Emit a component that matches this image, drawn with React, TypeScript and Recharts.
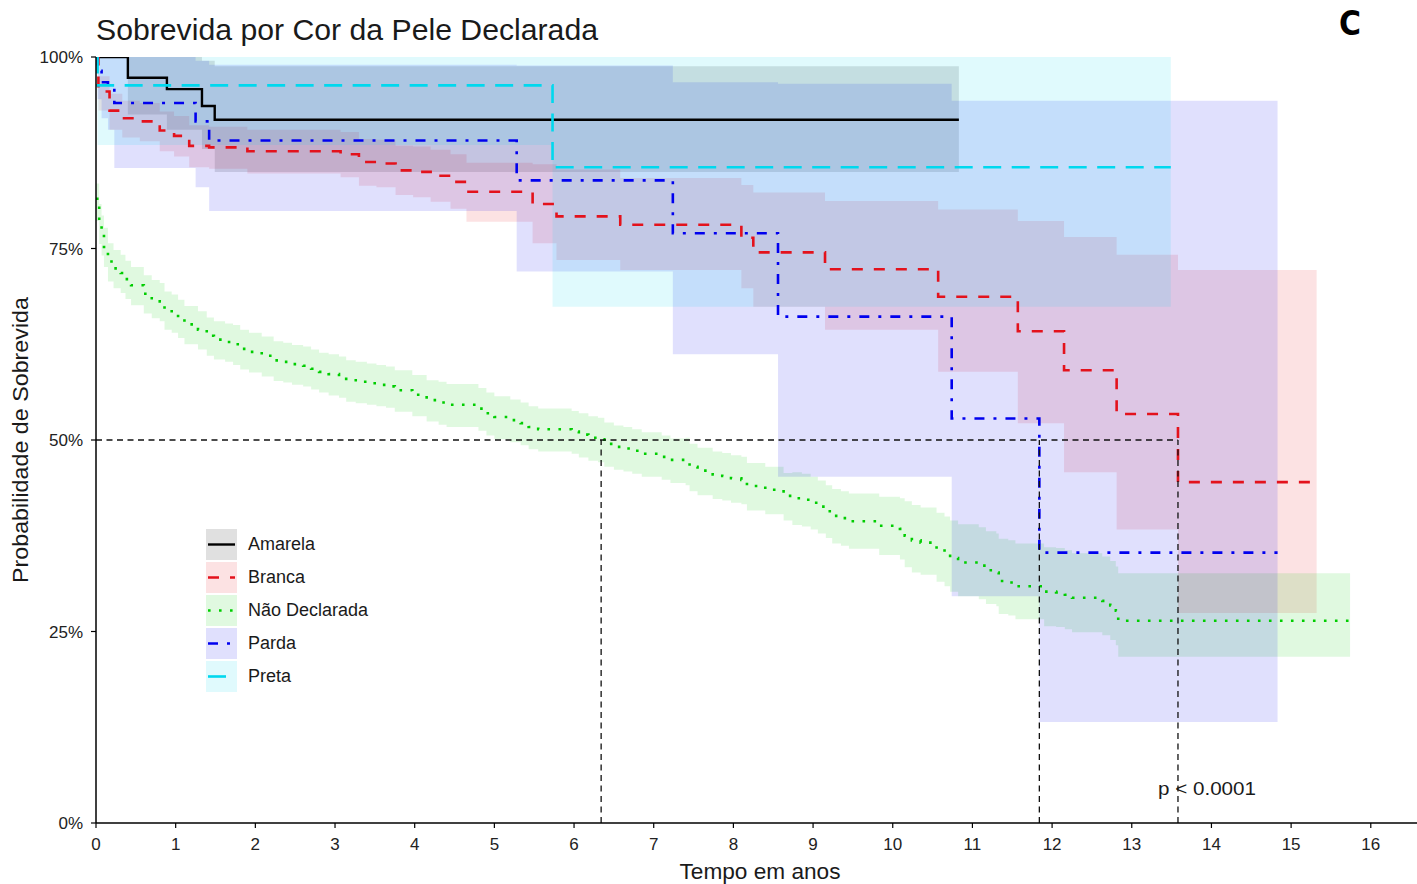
import React from 'react';
import { ComposedChart, Line, Area, XAxis, YAxis, ReferenceLine, Legend } from 'recharts';

// ---------- data ----------
const X_TICKS = [0, 1, 2, 3, 4, 5, 6, 7, 8, 9, 10, 11, 12, 13, 14, 15, 16];
const Y_TICKS = [0, 25, 50, 75, 100];
const Y_TICK_LABELS = ['0%', '25%', '50%', '75%', '100%'];

// Amarela
const amarelaT = [0, 0.4, 0.89, 1.33, 1.49, 10.83];
const amarelaS = [100, 97.3, 95.8, 93.6, 91.8, 91.8];
const amarelaLo = [100, 92.5, 90.5, 88.0, 85.0, 85.0];
const amarelaHi = [100, 100, 100, 99.5, 98.8, 98.8];

// Branca
const brancaT = [0, 0.03, 0.17, 0.33, 0.55, 0.8, 0.98, 1.17, 1.42, 1.9, 3.07, 3.3, 3.52, 3.76, 3.98, 4.2, 4.45, 4.65, 5.48, 5.78, 6.58, 8.1, 8.25, 9.15, 10.57, 11.57, 12.15, 12.81, 13.58, 15.32];
const brancaS = [100, 95.5, 93.0, 92.0, 91.6, 90.4, 89.7, 88.4, 88.2, 87.7, 87.3, 86.3, 86.1, 85.2, 85.0, 84.5, 83.7, 82.4, 80.8, 79.2, 78.1, 76.4, 74.5, 72.3, 68.7, 64.2, 59.1, 53.4, 44.5, 44.5];
const brancaLo = [100, 93.0, 90.5, 89.5, 89.0, 87.7, 87.0, 85.6, 85.4, 84.8, 84.3, 83.2, 83.0, 82.0, 81.7, 81.1, 80.2, 78.5, 75.7, 73.5, 72.2, 69.8, 67.4, 64.4, 58.9, 52.2, 45.8, 38.3, 27.4, 27.4];
const brancaHi = [100, 97.5, 95.2, 94.3, 94.0, 92.9, 92.3, 91.1, 90.9, 90.5, 90.2, 89.3, 89.2, 88.4, 88.3, 87.9, 87.3, 86.2, 86.0, 85.3, 84.2, 83.3, 82.3, 81.2, 80.1, 78.6, 76.5, 74.2, 72.2, 72.2];

// Não Declarada
const naoT = [0, 0.04, 0.07, 0.1, 0.15, 0.22, 0.31, 0.37, 0.44, 0.6, 0.7, 0.8, 0.86, 0.95, 1.03, 1.11, 1.28, 1.39, 1.48, 1.62, 1.72, 1.81, 1.92, 2.08, 2.23, 2.35, 2.46, 2.6, 2.7, 2.8, 2.92, 3.05, 3.14, 3.26, 3.4, 3.52, 3.64, 3.75, 3.97, 4.15, 4.3, 4.4, 4.8, 4.9, 5.0, 5.2, 5.33, 5.43, 5.55, 5.97, 6.06, 6.18, 6.3, 6.38, 6.5, 6.62, 6.73, 6.85, 7.1, 7.21, 7.4, 7.45, 7.55, 7.74, 7.86, 7.97, 8.1, 8.17, 8.4, 8.63, 8.74, 8.86, 8.97, 9.06, 9.16, 9.24, 9.35, 9.45, 9.83, 10.09, 10.15, 10.24, 10.35, 10.55, 10.65, 10.72, 10.82, 11.08, 11.17, 11.3, 11.33, 11.45, 11.54, 11.9, 12.05, 12.16, 12.25, 12.63, 12.73, 12.8, 12.83, 15.74];
const naoS = [81.5, 78.3, 76.8, 75.2, 73.3, 72.4, 71.8, 71.0, 70.2, 69.1, 68.5, 68.1, 67.0, 66.6, 65.9, 65.1, 64.4, 63.6, 63.1, 62.8, 62.5, 61.9, 61.5, 61.0, 60.4, 60.2, 59.9, 59.7, 59.3, 58.9, 58.6, 58.3, 57.8, 57.6, 57.4, 57.2, 57.0, 56.5, 55.9, 55.2, 54.9, 54.6, 54.1, 53.5, 53.0, 52.6, 52.2, 51.7, 51.4, 51.1, 50.7, 50.3, 50.1, 49.5, 49.1, 48.9, 48.6, 48.2, 47.8, 47.4, 47.3, 46.5, 46.0, 45.5, 45.3, 45.0, 44.8, 44.0, 43.5, 42.7, 42.4, 42.2, 41.8, 41.3, 40.7, 40.1, 39.8, 39.4, 38.8, 38.4, 37.5, 36.9, 36.6, 35.8, 35.2, 34.6, 34.0, 33.6, 33.0, 32.7, 31.6, 31.4, 30.9, 30.2, 30.1, 29.8, 29.4, 29.0, 28.4, 27.7, 26.4, 26.4];
const naoLo = [
  78.6, 75.6, 74.1, 72.6, 70.7, 69.8, 69.2, 68.4, 67.6, 66.5,
  65.9, 65.5, 64.4, 64.0, 63.3, 62.5, 61.8, 61.0, 60.5, 60.2,
  59.8, 59.2, 58.8, 58.3, 57.7, 57.5, 57.2, 57.0, 56.6, 56.2,
  55.8, 55.5, 55.0, 54.8, 54.6, 54.4, 54.2, 53.7, 53.1, 52.4,
  52.0, 51.7, 51.2, 50.6, 50.1, 49.7, 49.3, 48.8, 48.5, 48.2,
  47.7, 47.3, 47.1, 46.5, 46.1, 45.9, 45.6, 45.2, 44.8, 44.4,
  44.1, 43.3, 42.8, 42.3, 42.1, 41.8, 41.6, 40.8, 40.3, 39.5,
  38.9, 38.7, 38.3, 37.8, 37.2, 36.5, 36.2, 35.8, 35.0, 34.4,
  33.4, 32.7, 32.4, 31.5, 30.9, 30.2, 29.6, 29.2, 28.6, 28.3,
  27.3, 27.1, 26.6, 25.7, 25.6, 25.3, 24.9, 24.5, 23.9, 23.2,
  21.7, 21.7,
];
const naoHi = [
  83.5, 80.8, 79.3, 77.7, 75.7, 74.8, 74.2, 73.4, 72.6, 71.5,
  70.9, 70.5, 69.4, 69.0, 68.3, 67.5, 66.8, 66.0, 65.5, 65.2,
  65.0, 64.4, 64.0, 63.5, 62.9, 62.7, 62.4, 62.2, 61.8, 61.4,
  61.2, 60.9, 60.4, 60.2, 60.0, 59.8, 59.6, 59.1, 58.5, 57.8,
  57.6, 57.3, 56.8, 56.2, 55.7, 55.3, 54.9, 54.4, 54.1, 53.8,
  53.5, 53.1, 52.9, 52.3, 51.9, 51.7, 51.4, 51.0, 50.6, 50.2,
  50.3, 49.5, 49.0, 48.5, 48.3, 48.0, 47.8, 47.0, 46.5, 45.7,
  45.8, 45.6, 45.2, 44.7, 44.1, 43.6, 43.3, 43.0, 42.6, 42.4,
  42.0, 41.5, 41.2, 40.5, 40.0, 39.5, 39.0, 38.6, 38.1, 37.8,
  37.1, 36.9, 36.5, 36.0, 35.9, 35.6, 35.2, 34.8, 34.2, 33.5,
  32.6, 32.6,
];

// Parda
const pardaT = [0, 0.02, 0.07, 0.15, 0.23, 1.25, 1.42, 5.28, 7.24, 8.56, 10.74, 11.84, 14.83];
const pardaS = [100, 98.2, 96.7, 95.9, 94.0, 91.6, 89.1, 83.9, 77.0, 66.1, 52.8, 35.3, 35.3];
const pardaLo = [100, 94.5, 92.0, 90.5, 85.5, 83.0, 79.9, 72.0, 61.2, 45.2, 29.6, 13.2, 13.2];
const pardaHi = [100, 100, 100, 100, 100, 99.5, 99.0, 98.9, 96.7, 96.5, 94.3, 94.3, 94.3];

// Preta
const pretaT = [0, 0.02, 5.73, 13.49];
const pretaS = [100, 96.3, 85.6, 85.6];
const pretaLo = [100, 88.5, 67.4, 67.4];
const pretaHi = [100, 100, 100, 100];

// medians (dashed guides)
const MEDIAN_LEVEL = 50;
const MEDIANS = [6.34, 11.84, 13.58];

// ---------- helpers ----------
const toLine = (ts: number[], ss: number[]) => ts.map((t, i) => ({ t, s: ss[i] }));
const toBand = (ts: number[], lo: number[], hi: number[]) => ts.map((t, i) => ({ t, band: [lo[i], hi[i]] }));

const SERIES = [
  { name: 'Amarela', color: '#000000', dash: undefined as string | undefined, width: 2.4, line: toLine(amarelaT, amarelaS), band: toBand(amarelaT, amarelaLo, amarelaHi) },
  { name: 'Branca', color: '#e3121c', dash: '11 11', width: 2.6, line: toLine(brancaT, brancaS), band: toBand(brancaT, brancaLo, brancaHi) },
  { name: 'Não Declarada', color: '#00cd00', dash: '2.6 8.4', width: 2.6, line: toLine(naoT, naoS), band: toBand(naoT, naoLo, naoHi) },
  { name: 'Parda', color: '#0000ee', dash: '10 9 3 9', width: 2.6, line: toLine(pardaT, pardaS), band: toBand(pardaT, pardaLo, pardaHi) },
  { name: 'Preta', color: '#00d8ee', dash: '18 10.5', width: 2.6, line: toLine(pretaT, pretaS), band: toBand(pretaT, pretaLo, pretaHi) },
];

const W = 1417;
const H = 884;
const FONT = '"Liberation Sans", Arial, Helvetica, sans-serif';
const BAND_OPACITY = 0.12;

function LegendBox() {
  return (
    <div style={{ fontFamily: FONT, fontSize: 18, color: '#1a1a1a', lineHeight: '33px' }}>
      {SERIES.map((s) => (
        <div key={s.name} style={{ display: 'flex', alignItems: 'center', height: 33 }}>
          <svg width={31} height={33} style={{ display: 'block' }}>
            <rect x={0} y={1} width={31} height={31} fill={s.color} fillOpacity={BAND_OPACITY} />
            <line x1={2} x2={29} y1={16.5} y2={16.5} stroke={s.color} strokeWidth={s.width} strokeDasharray={s.dash} />
          </svg>
          <span style={{ marginLeft: 11, whiteSpace: 'nowrap' }}>{s.name}</span>
        </div>
      ))}
    </div>
  );
}

export default function App() {
  return (
    <div style={{ position: 'relative', width: W, height: H, background: '#ffffff', overflow: 'hidden' }}>
      <style>{`html,body{margin:0;padding:0;background:#fff;overflow:hidden}`}</style>
      <ComposedChart width={W} height={H} margin={{ top: 57, right: 0, bottom: 0, left: 0 }}>
        <XAxis
          dataKey="t"
          type="number"
          domain={[0, 16.58]}
          ticks={X_TICKS}
          interval={0}
          allowDataOverflow
          height={61}
          tickSize={5}
          tickMargin={10}
          axisLine={{ stroke: '#000', strokeWidth: 1.5 }}
          tickLine={{ stroke: '#000', strokeWidth: 1.2 }}
          tick={{ fill: '#222', fontSize: 17, fontFamily: FONT }}
        />
        <YAxis
          type="number"
          domain={[0, 100]}
          ticks={Y_TICKS}
          interval={0}
          allowDataOverflow
          width={96}
          tickSize={5}
          tickMargin={8}
          tickFormatter={(v: number) => Y_TICK_LABELS[Y_TICKS.indexOf(v)]}
          axisLine={{ stroke: '#000', strokeWidth: 1.5 }}
          tickLine={{ stroke: '#000', strokeWidth: 1.2 }}
          tick={{ fill: '#222', fontSize: 17, fontFamily: FONT }}
        />
        {SERIES.map((s) => (
          <Area
            key={'band-' + s.name}
            data={s.band}
            dataKey="band"
            type="stepAfter"
            stroke="none"
            fill={s.color}
            fillOpacity={BAND_OPACITY}
            isAnimationActive={false}
            activeDot={false}
            legendType="none"
          />
        ))}
        {SERIES.map((s) => (
          <Line
            key={'line-' + s.name}
            data={s.line}
            dataKey="s"
            name={s.name}
            type="stepAfter"
            stroke={s.color}
            strokeWidth={s.width}
            strokeDasharray={s.dash}
            dot={false}
            activeDot={false}
            isAnimationActive={false}
          />
        ))}
        <ReferenceLine
          segment={[{ x: 0, y: MEDIAN_LEVEL }, { x: MEDIANS[2], y: MEDIAN_LEVEL }]}
          stroke="#111"
          strokeWidth={1.3}
          strokeDasharray="6 4.5"
        />
        {MEDIANS.map((m) => (
          <ReferenceLine
            key={'med-' + m}
            segment={[{ x: m, y: 0 }, { x: m, y: MEDIAN_LEVEL }]}
            stroke="#111"
            strokeWidth={1.3}
            strokeDasharray="6 4.5"
          />
        ))}
        <Legend
          layout="vertical"
          align="center"
          verticalAlign="middle"
          content={() => <LegendBox />}
          wrapperStyle={{ left: 206, top: 528, width: 220, height: 170 }}
        />
      </ComposedChart>
      <svg
        width={W}
        height={H}
        style={{ position: 'absolute', left: 0, top: 0, pointerEvents: 'none' }}
        fontFamily={FONT}
      >
        <text x={96} y={40} fontSize={29} fill="#1a1a1a" textLength={502} lengthAdjust="spacingAndGlyphs">
          Sobrevida por Cor da Pele Declarada
        </text>
        <text x={1339} y={35} fontSize={34} fontWeight="bold" fill="#000" fontFamily='"DejaVu Sans", sans-serif' textLength={22} lengthAdjust="spacingAndGlyphs">
          C
        </text>
        <text transform="translate(28,440) rotate(-90)" textAnchor="middle" fontSize={22} fill="#1a1a1a" textLength={286} lengthAdjust="spacingAndGlyphs">
          Probabilidade de Sobrevida
        </text>
        <text x={760} y={879} textAnchor="middle" fontSize={22} fill="#1a1a1a" textLength={161} lengthAdjust="spacingAndGlyphs">
          Tempo em anos
        </text>
        <text x={1158} y={795} fontSize={19} fill="#1a1a1a" textLength={98} lengthAdjust="spacingAndGlyphs">
          p &lt; 0.0001
        </text>
      </svg>
    </div>
  );
}
